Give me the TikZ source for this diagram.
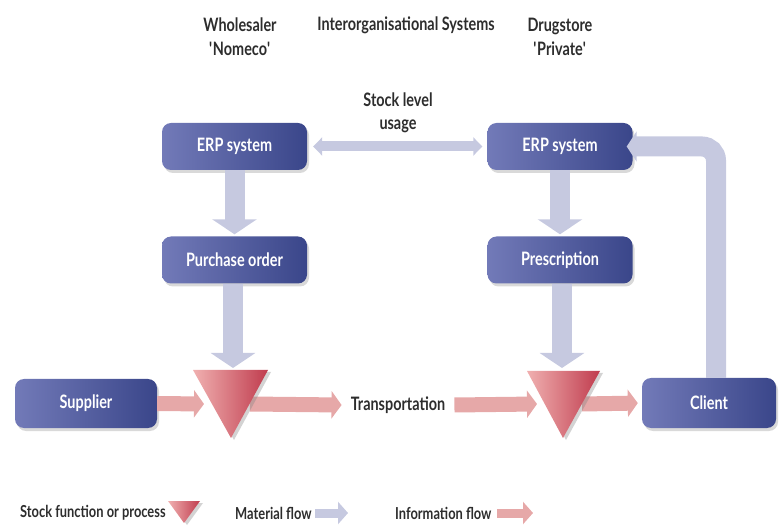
\documentclass[tikz,border=0pt]{standalone}
\usepackage{fontspec}
\setmainfont{Lato}[FakeStretch=0.78]
\usetikzlibrary{arrows.meta,shadows}
\definecolor{boxL}{RGB}{114,122,184}
\definecolor{boxR}{RGB}{58,70,138}
\definecolor{triL}{RGB}{240,176,176}
\definecolor{triR}{RGB}{192,60,78}
\definecolor{lav}{RGB}{198,201,224}
\definecolor{pnk}{RGB}{230,168,168}
\definecolor{txt}{RGB}{45,45,45}
\tikzset{
  procbox/.style={rounded corners=9pt, minimum width=145pt, minimum height=47pt,
    left color=boxL, right color=boxR, text=white, inner sep=0pt,
    font=\fontsize{18.5}{20}\selectfont\bfseries,
    drop shadow={shadow xshift=2pt, shadow yshift=-3pt, opacity=0.3}},
  ttl/.style={text=txt, align=center, font=\fontsize{18.5}{24}\selectfont\bfseries},
  lgd/.style={text=txt, anchor=west, inner sep=0pt, font=\fontsize{16.5}{17}\selectfont\bfseries},
  lavarr/.style={draw=lav, line width=20pt, -{Triangle[width=44pt,length=15pt]}},
  lavback/.style={draw=lav, line width=20pt, -{Triangle[width=30pt,length=10pt]}},
  lavdbl/.style={draw=lav, line width=10pt, {Triangle[width=18pt,length=9pt]}-{Triangle[width=18pt,length=9pt]}},
  pkarr/.style={draw=pnk, line width=15pt, -{Triangle[width=27pt,length=10pt]}},
  stocktri/.style={left color=triL, right color=triR,
    drop shadow={shadow xshift=3pt, shadow yshift=-2pt, opacity=0.35}},
}
\begin{document}
\begin{tikzpicture}[x=1pt,y=-1pt]
\useasboundingbox (0,0) rectangle (779,526);
% titles
\node[ttl] (wh) at (240,37) {Wholesaler\\\textquotesingle Nomeco\textquotesingle};
\node[ttl] (ios) at (406,25) {Interorganisational Systems};
\node[ttl] (ds) at (560,37) {Drugstore\\\textquotesingle Private\textquotesingle};
\node[ttl, font=\fontsize{18.5}{23}\selectfont\bfseries] (slu) at (398,113) {Stock level\\usage};
% boxes
\node[procbox] (erpL) at (234.5,146.5) {ERP system};
\node[procbox] (erpR) at (560,146.5) {ERP system};
\node[procbox] (po) at (234.5,260) {Purchase order};
\node[procbox] (pre) at (560,260) {Prescription};
\node[procbox, minimum width=142pt, minimum height=49pt] (sup) at (86,403.5) {Supplier};
\node[procbox, minimum width=134pt, minimum height=50pt] (cl) at (709,403) {Client};
\node[text=txt, font=\fontsize{18.5}{20}\selectfont\bfseries, inner xsep=9pt, inner ysep=3pt] (trans) at (398,405) {Transportation};
% coordinates
\coordinate (t1top) at (233,368);
\coordinate (t2top) at (562,368);
\coordinate (t1in) at (204,404);
\coordinate (t1out) at (250,404);
\coordinate (t2in) at (537,404);
\coordinate (t2out) at (582,404);
\coordinate (cup) at (716,378);
% information / material arrows
\draw[lavdbl, shorten <=6pt, shorten >=5pt] (erpL.east) -- (erpR.west);
\draw[lavarr, shorten >=2pt] (erpL.south) -- (po.north);
\draw[lavarr, shorten >=2pt] (erpR.south) -- (pre.north);
\draw[lavarr] (po.south -| t1top) -- (t1top);
\draw[lavarr] (pre.south -| t2top) -- (t2top);
\draw[lavback, rounded corners=14pt, shorten >=-6pt] (cup) |- (erpR.east);
\draw[pkarr] (sup.east) -- (t1in);
\draw[pkarr] (t1out) -- (trans.west);
\draw[pkarr] (trans.east) -- (t2in);
\draw[pkarr, shorten >=4pt] (t2out) -- (cl.west);
% stock triangles
\path[stocktri] (193,370) -- (268,370) -- (231,438) -- cycle;
\path[stocktri] (527,371) -- (600,371) -- (563,438) -- cycle;
% legend
\node[lgd] (l1) at (20,513) {Stock function or process};
\path[stocktri] (168,501) -- (200,501) -- (184,523) -- cycle;
\node[lgd] (l2) at (235,513) {Material flow};
\coordinate (m1) at (315,513);
\coordinate (m2) at (348,513);
\draw[draw=lav, line width=9pt, -{Triangle[width=22pt,length=10pt]}] (m1) -- (m2);
\node[lgd] (l3) at (395,513) {Information flow};
\coordinate (i1) at (497,513);
\coordinate (i2) at (533,513);
\draw[draw=pnk, line width=9pt, -{Triangle[width=22pt,length=10pt]}] (i1) -- (i2);
\end{tikzpicture}
\end{document}
